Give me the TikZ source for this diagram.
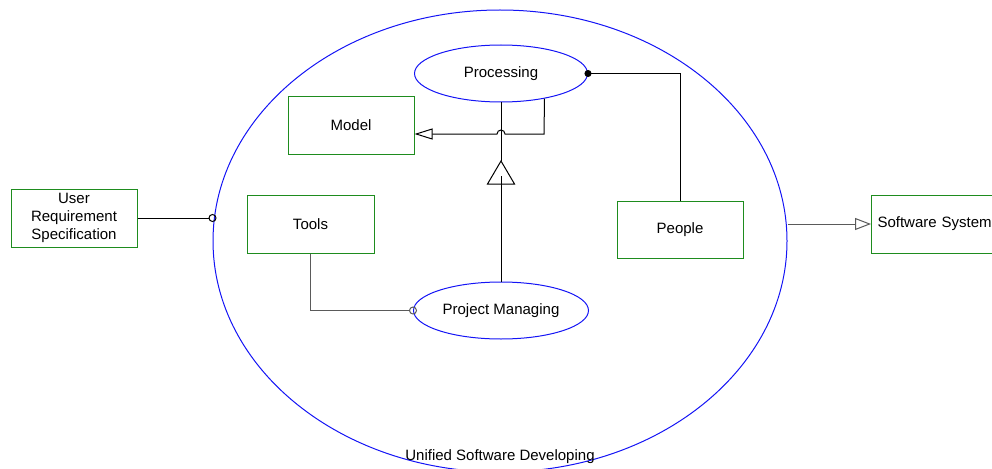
\documentclass[tikz,border=0pt]{standalone}
\usepackage{fontspec}
\setmainfont{Liberation Sans}
\usetikzlibrary{shapes.geometric,arrows.meta}
\definecolor{boxgreen}{RGB}{30,140,30}
\definecolor{ucblue}{RGB}{20,20,245}
\definecolor{wiregray}{RGB}{90,90,90}
\begin{document}
\begin{tikzpicture}[x=1pt,y=-1pt,
  every node/.style={font=\fontsize{15}{18}\selectfont},
  box/.style={draw=boxgreen, line width=1pt, inner sep=0pt, align=center},
  usecase/.style={draw=ucblue, ellipse, line width=1pt, inner sep=0pt},
  link/.style={line width=1pt, draw=black},
  glink/.style={line width=1pt, draw=wiregray},
  ring/.style={-{Circle[open,length=8pt,width=8pt]}, shorten >=-4pt},
  dotstart/.style={{Circle[length=7pt,width=7pt]}-, shorten <=-3.5pt},
  realize/.style={-{Triangle[open,length=16pt,width=12pt]}},
  inherit/.style={-{Triangle[open,length=18pt,width=11pt]}}
]
\useasboundingbox (0,0) rectangle (992,468);

% system boundary
\node[usecase, minimum width=574pt, minimum height=462pt] (big) at (500,241) {};
\node (biglabel) at (500,457) {Unified Software Developing};

% use cases
\node[usecase, minimum width=173pt, minimum height=57pt] (proc) at (501,73.5) {Processing};
\node[usecase, minimum width=175pt, minimum height=57pt] (pm) at (501,310.5) {Project Managing};

% boxes
\node[box, minimum width=126pt, minimum height=58pt, font=\fontsize{15}{18}\selectfont] (usr) at (74,218) {User\\Requirement\\Specification};
\node[box, minimum width=126pt, minimum height=57pt] (model) at (351,125.5) {Model};
\node[box, minimum width=127pt, minimum height=58pt] (tools) at (310.5,224) {Tools};
\node[box, minimum width=126pt, minimum height=57pt] (people) at (680,229.5) {People};
\node[box, anchor=west, minimum height=58pt, text width=124pt, inner xsep=6pt, align=left] (ss) at (871,224) {Software System};

% connectors
\draw[link, ring] (usr.east) -- (usr.east -| big.west);
\draw[glink, realize] (ss.west -| big.east) -- (ss.west);
\draw[glink, ring] (tools.south) |- (pm.west);
\draw[link, dotstart] (proc.east) -| (people.north);

% generalization Project Managing -> Processing
\coordinate (gtip) at (501,161);
\draw[link] (gtip) -- (proc.south);
\draw[link, fill=white] (gtip) -- ++(13.5,23) -- ++(-27,0) -- cycle;
\draw[link] (pm.north) -- ++(0,-106);

% Processing -> Model, hopping over the generalization line
\coordinate (bend) at (544,134);
\draw[link, inherit] (proc.-30) -- (bend) -- ([xshift=4pt]bend -| proc.south)
  arc[start angle=0, end angle=180, radius=4pt] -- (bend -| model.east);
\end{tikzpicture}
\end{document}
